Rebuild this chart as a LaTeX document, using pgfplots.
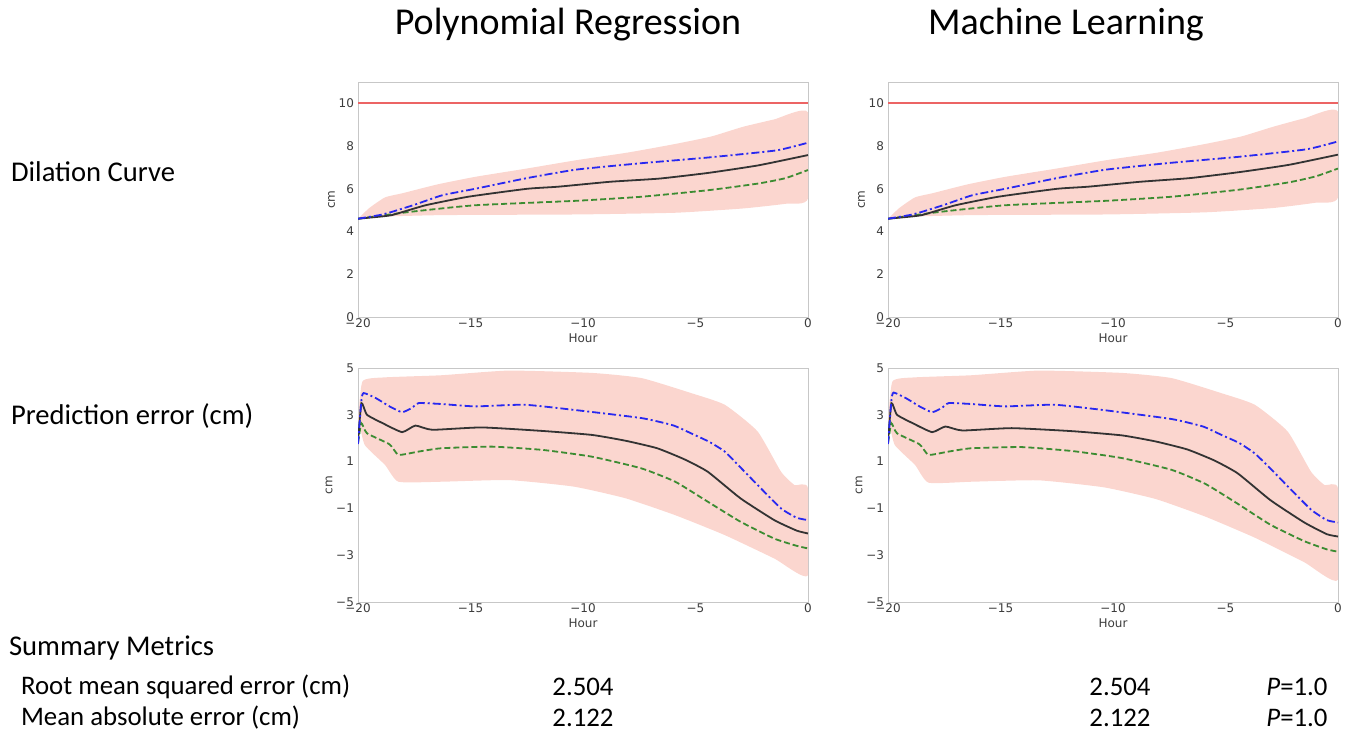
\documentclass[border=0pt]{standalone}
\usepackage{fontspec}
\usepackage{pgfplots}
\pgfplotsset{compat=1.18}
\setmainfont{Carlito}
\newfontfamily\dejavu{DejaVu Sans}

\definecolor{band}{RGB}{251,214,207}
\definecolor{lineblue}{RGB}{40,40,240}
\definecolor{linegreen}{RGB}{60,140,50}
\definecolor{limitred}{RGB}{236,100,100}
\definecolor{ticktext}{RGB}{60,60,60}

\pgfplotsset{
  panel/.style={
    scale only axis, width=225pt,
    xmin=-20, xmax=0,
    axis line style={draw=black!22},
    tick style={draw=none},
    xtick={-20,-15,-10,-5,0},
    xticklabels={−20,−15,−10,−5,0},
    ticklabel style={font=\dejavu\fontsize{6}{7}\selectfont, text=ticktext},
    xticklabel style={yshift=2.5pt},
    yticklabel style={xshift=1.5pt},
    /pgf/number format/assume math mode=true,
    xlabel={Hour}, ylabel={cm},
    label style={font=\dejavu\fontsize{6}{7}\selectfont, text=ticktext},
    xlabel style={yshift=4pt},
    ylabel style={yshift=-5pt},
    clip=true,
  },
  toprow/.style={panel, height=117.5pt, ymin=0, ymax=11, ytick={0,2,4,6,8,10}},
  botrow/.style={panel, height=117pt, ymin=-5, ymax=5, ytick={-5,-3,-1,1,3,5},
    yticklabels={−5,−3,−1,1,3,5}},
  bandfill/.style={fill=band, draw=none, smooth, tension=0.3},
  mlblue/.style={draw=lineblue, line width=0.9pt, smooth, tension=0.3, dash pattern=on 4pt off 1.5pt on 1pt off 1.5pt},
  mlblack/.style={draw=black!80, line width=0.9pt, smooth, tension=0.3},
  mlgreen/.style={draw=linegreen, line width=0.9pt, smooth, tension=0.3, dash pattern=on 3pt off 1.5pt},
}

\begin{document}
\begin{tikzpicture}
\path (0,0) rectangle (677.5pt,-367.5pt);

% ---- top left: dilation curve, polynomial regression
\begin{axis}[toprow, at={(179pt,-158.5pt)}, anchor=south west]
\addplot[bandfill] coordinates {(-20,4.6) (-19.5,5.1) (-18.8,5.6) (-18,5.8) (-16.5,6.2) (-14.8,6.56) (-12.5,6.95) (-10.3,7.34) (-8,7.7) (-5.9,8.1) (-4.3,8.45) (-2.9,8.9) (-1.5,9.25) (0,9.58)
  (0,5.55) (-1,5.3) (-2.9,5.08) (-5.9,4.88) (-10.3,4.8) (-16.25,4.77) (-19.2,4.69) (-20,4.6)} -- cycle;
\addplot[color=limitred, line width=1pt, no marks] coordinates {(-20,10) (-10,10) (0,10)};
\addplot[mlgreen] coordinates {(-20,4.6) (-17.7,4.92) (-14.8,5.23) (-10.3,5.44) (-7.4,5.63) (-4.4,5.94) (-2.2,6.25) (-1,6.5) (0,6.88)};
\addplot[mlblack] coordinates {(-20,4.6) (-19.5,4.65) (-18.5,4.77) (-17,5.23) (-15.1,5.63) (-12.5,6.0) (-11.1,6.1) (-8.8,6.33) (-6.6,6.48) (-4.4,6.75) (-2.2,7.1) (0,7.58)};
\addplot[mlblue] coordinates {(-20,4.6) (-19,4.78) (-18.5,4.92) (-17.5,5.25) (-16.25,5.7) (-14.8,6.0) (-12.5,6.5) (-10.3,6.9) (-7.4,7.2) (-4.4,7.47) (-1.4,7.8) (0,8.16)};
\end{axis}

% ---- top right: dilation curve, machine learning
\begin{axis}[toprow, at={(444pt,-158.5pt)}, anchor=south west]
\addplot[bandfill] coordinates {(-20,4.6) (-19.5,5.1) (-18.8,5.6) (-18,5.8) (-16.5,6.2) (-14.8,6.56) (-12.5,6.95) (-10.3,7.34) (-8,7.7) (-5.9,8.1) (-4.3,8.45) (-2.9,8.9) (-1.5,9.3) (0,9.62)
  (0,5.6) (-1,5.35) (-2.9,5.1) (-5.9,4.9) (-10.3,4.8) (-16.25,4.77) (-19.2,4.69) (-20,4.6)} -- cycle;
\addplot[color=limitred, line width=1pt, no marks] coordinates {(-20,10) (-10,10) (0,10)};
\addplot[mlgreen] coordinates {(-20,4.6) (-17.7,4.92) (-14.8,5.23) (-10.3,5.44) (-7.4,5.63) (-4.4,5.96) (-2.2,6.3) (-1,6.58) (0,6.95)};
\addplot[mlblack] coordinates {(-20,4.6) (-19.5,4.65) (-18.5,4.77) (-17,5.23) (-15.1,5.63) (-12.5,6.0) (-11.1,6.1) (-8.8,6.33) (-6.6,6.5) (-4.4,6.78) (-2.2,7.12) (0,7.6)};
\addplot[mlblue] coordinates {(-20,4.6) (-19,4.78) (-18.5,4.92) (-17.5,5.25) (-16.25,5.7) (-14.8,6.0) (-12.5,6.5) (-10.3,6.9) (-7.4,7.22) (-4.4,7.5) (-1.4,7.85) (0,8.22)};
\end{axis}

% ---- bottom left: prediction error, polynomial regression
\begin{axis}[botrow, at={(179pt,-301pt)}, anchor=south west]
\addplot[bandfill] coordinates {(-20,2.7) (-19.8,4.43) (-18.8,4.6) (-16.3,4.69) (-13.3,4.89) (-9.6,4.79) (-7.4,4.57) (-5.2,3.93) (-3.7,3.43) (-2.24,2.29) (-1.2,0.57) (-0.6,0.0) (0,-0.14)
  (0,-3.86) (-1.5,-3.14) (-3.7,-2.14) (-5.9,-1.29) (-8.1,-0.57) (-10.4,-0.07) (-13.3,0.21) (-16.3,0.14) (-18.2,0.14) (-18.8,0.86) (-19.7,1.71) (-19.95,2.71)} -- cycle;
\addplot[mlgreen] coordinates {(-20,1.8) (-19.85,2.64) (-19.6,2.21) (-18.6,1.74) (-18.2,1.29) (-17.3,1.43) (-16.3,1.57) (-14.05,1.64) (-11.8,1.5) (-9.6,1.21) (-7.4,0.71) (-5.9,0.14) (-4.46,-0.71) (-3.0,-1.57) (-1.5,-2.29) (-0.5,-2.6) (0,-2.71)};
\addplot[mlblack] coordinates {(-20,1.8) (-19.85,3.5) (-19.6,3.0) (-18.9,2.64) (-18.04,2.26) (-17.45,2.54) (-16.7,2.36) (-14.5,2.46) (-11.8,2.31) (-9.6,2.14) (-8.1,1.89) (-6.7,1.57) (-5.5,1.1) (-4.46,0.57) (-3.0,-0.57) (-1.5,-1.5) (-0.5,-1.95) (0,-2.07)};
\addplot[mlblue] coordinates {(-20,1.75) (-19.85,3.6) (-19.75,3.93) (-19.2,3.71) (-18.6,3.36) (-18.04,3.11) (-17.6,3.3) (-17.3,3.5) (-16.27,3.46) (-14.8,3.36) (-12.6,3.43) (-10.4,3.21) (-7.4,2.86) (-6,2.55) (-5.2,2.21) (-4.4,1.85) (-3.7,1.43) (-3,0.75) (-2.24,0.0) (-1.2,-1.0) (-0.5,-1.4) (0,-1.5)};
\end{axis}

% ---- bottom right: prediction error, machine learning
\begin{axis}[botrow, at={(444pt,-301pt)}, anchor=south west]
\addplot[bandfill] coordinates {(-20,2.7) (-19.8,4.43) (-18.8,4.6) (-16.3,4.69) (-13.3,4.89) (-9.6,4.79) (-7.4,4.57) (-5.2,3.93) (-3.7,3.43) (-2.24,2.29) (-1.2,0.57) (-0.6,0.0) (0,-0.14)
  (0,-4.05) (-1.5,-3.3) (-3.7,-2.25) (-5.9,-1.35) (-8.1,-0.6) (-10.4,-0.1) (-13.3,0.2) (-16.3,0.14) (-18.2,0.1) (-18.8,0.86) (-19.7,1.71) (-19.95,2.71)} -- cycle;
\addplot[mlgreen] coordinates {(-20,1.8) (-19.85,2.64) (-19.6,2.21) (-18.6,1.74) (-18.2,1.29) (-17.3,1.43) (-16.3,1.57) (-14.05,1.62) (-11.8,1.45) (-9.6,1.15) (-7.4,0.65) (-5.9,0.05) (-4.46,-0.8) (-3.0,-1.7) (-1.5,-2.4) (-0.5,-2.75) (0,-2.85)};
\addplot[mlblack] coordinates {(-20,1.8) (-19.85,3.5) (-19.6,3.0) (-18.9,2.64) (-18.04,2.26) (-17.45,2.5) (-16.7,2.33) (-14.5,2.43) (-11.8,2.3) (-9.6,2.12) (-8.1,1.86) (-6.7,1.52) (-5.5,1.05) (-4.46,0.5) (-3.0,-0.65) (-1.5,-1.6) (-0.5,-2.1) (0,-2.2)};
\addplot[mlblue] coordinates {(-20,1.75) (-19.85,3.6) (-19.75,3.95) (-19.2,3.71) (-18.6,3.36) (-18.04,3.11) (-17.6,3.3) (-17.3,3.5) (-16.27,3.46) (-14.8,3.36) (-12.6,3.43) (-10.4,3.2) (-7.4,2.82) (-6,2.5) (-5.2,2.15) (-4.4,1.8) (-3.7,1.35) (-3,0.7) (-2.24,-0.05) (-1.2,-1.05) (-0.5,-1.5) (0,-1.6)};
\end{axis}

% ---- titles and row labels
\node[font=\fontsize{19}{22}\selectfont] at (284pt,-12.5pt) {Polynomial Regression};
\node[font=\fontsize{19}{22}\selectfont] at (533pt,-12.5pt) {Machine Learning};
\node[anchor=west, font=\fontsize{14.3}{16}\selectfont] at (2pt,-86pt) {Dilation Curve};
\node[anchor=west, font=\fontsize{14.3}{16}\selectfont] at (2pt,-208pt) {Prediction error (cm)};
\node[anchor=west, font=\fontsize{14.3}{16}\selectfont] at (1pt,-324pt) {Summary Metrics};
\node[anchor=west, font=\fontsize{13.4}{15}\selectfont] at (7pt,-343.5pt) {Root mean squared error (cm)};
\node[anchor=west, font=\fontsize{13.4}{15}\selectfont] at (7pt,-359pt) {Mean absolute error (cm)};
\node[font=\fontsize{13.4}{15}\selectfont] at (291.5pt,-343.5pt) {2.504};
\node[font=\fontsize{13.4}{15}\selectfont] at (291.5pt,-359pt) {2.122};
\node[font=\fontsize{13.4}{15}\selectfont] at (560pt,-343.5pt) {2.504};
\node[font=\fontsize{13.4}{15}\selectfont] at (560pt,-359pt) {2.122};
\node[font=\fontsize{13.4}{15}\selectfont] at (648.5pt,-343.5pt) {\textit{P}=1.0};
\node[font=\fontsize{13.4}{15}\selectfont] at (648.5pt,-359pt) {\textit{P}=1.0};
\end{tikzpicture}
\end{document}
